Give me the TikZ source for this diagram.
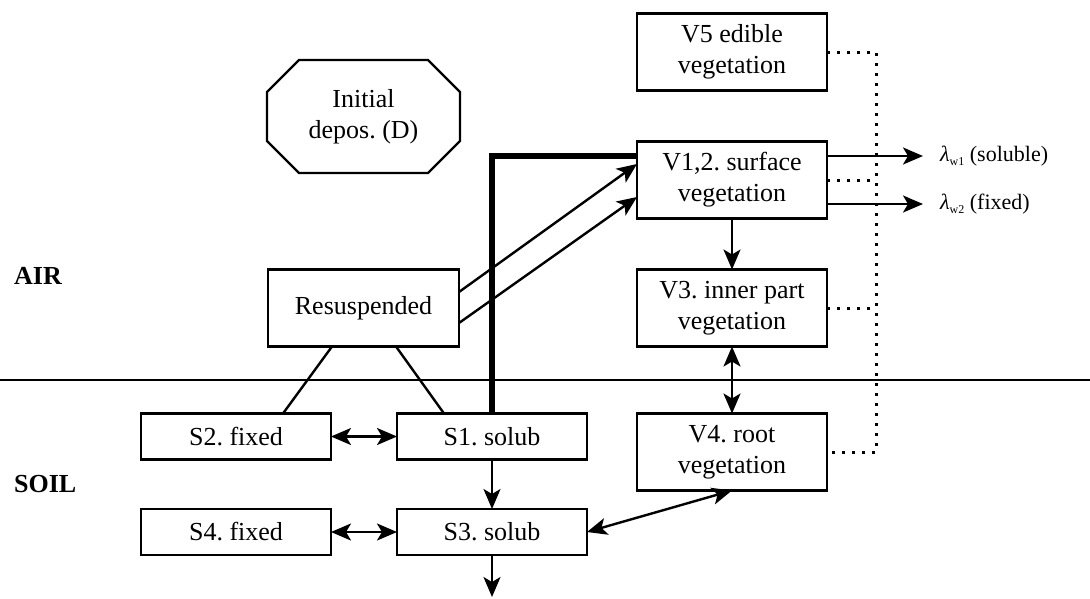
\documentclass[tikz,border=0pt]{standalone}
\usepackage{fontspec}
\setmainfont{Liberation Serif}
\usetikzlibrary{arrows.meta}
\frenchspacing
\begin{document}
\begin{tikzpicture}[x=1pt,y=-1pt,
  box/.style={draw, line width=2.4pt, minimum width=190pt, minimum height=77pt,
    align=center, inner sep=0pt, outer sep=0pt,
    font=\fontsize{26}{31}\selectfont},
  sbox/.style={box, minimum height=46pt},
  tip/.tip={Stealth[length=20pt,width=17pt,inset=5pt]},
  flow/.style={line width=2.4pt, -tip},
  both/.style={line width=2.4pt, tip-tip},
  link/.style={line width=2.4pt},
  feed/.style={line width=5.5pt},
  dots/.style={line width=3pt, dash pattern=on 3pt off 7pt},
  zone/.style={font=\bfseries\fontsize{26}{30}\selectfont, anchor=west, inner sep=0pt},
  rate/.style={font=\fontsize{22}{26}\selectfont, anchor=west, inner sep=0pt}]
\useasboundingbox (0,0) rectangle (1090,598);

% ground surface
\coordinate (gl) at (0,380);
\coordinate (gr) at (1090,380);
\draw[link] (gl) -- (gr);

% compartment labels
\node[zone] (air) at (14,276) {AIR};
\node[zone] (soil) at (14,484) {SOIL};

% initial deposition (octagon)
\node[minimum width=193pt, minimum height=113pt, inner sep=0pt, outer sep=0pt,
  align=center, font=\fontsize{26}{31}\selectfont] (dep) at (363.5,116.5)
  {Initial\\depos. (D)};
\draw[line width=2.4pt]
  ([xshift=32pt]dep.north west) -- ([xshift=-32pt]dep.north east)
  -- ([yshift=-32pt]dep.north east) -- ([yshift=32pt]dep.south east)
  -- ([xshift=-32pt]dep.south east) -- ([xshift=32pt]dep.south west)
  -- ([yshift=32pt]dep.south west) -- ([yshift=-32pt]dep.north west) -- cycle;

% vegetation compartments
\node[box] (v5) at (732,52) {V5 edible\\vegetation};
\node[box] (v12) at (732,180) {V1,2. surface\\vegetation};
\node[box] (v3) at (732,308) {V3. inner part\\vegetation};
\node[box] (v4) at (732,452) {V4. root\\vegetation};

% air and soil compartments
\node[box, minimum width=191pt] (res) at (363.5,308) {Resuspended};
\node[sbox] (s2) at (236,436.5) {S2. fixed};
\node[sbox] (s1) at (492,436.5) {S1. solub};
\node[sbox] (s4) at (236,532) {S4. fixed};
\node[sbox] (s3) at (492,532) {S3. solub};

% weathering outputs
\node[rate] (lw1) at (940,156) {\textit{λ}\raisebox{-4pt}{\fontsize{12}{12}\selectfont w1} (soluble)};
\node[rate] (lw2) at (940,204) {\textit{λ}\raisebox{-4pt}{\fontsize{12}{12}\selectfont w2} (fixed)};
\draw[flow] ([yshift=24pt]v12.east) -- ([xshift=-17pt]lw1.west);
\draw[flow] ([yshift=-24pt]v12.east) -- ([xshift=-17pt]lw2.west);

% root uptake to surface vegetation
\draw[feed] (s1.north) |- ([yshift=24pt]v12.west);

% resuspension to surface vegetation
\draw[flow] ([yshift=16pt]res.east) -- ([yshift=16pt]v12.west);
\draw[flow] ([yshift=-15pt]res.east) -- ([yshift=-17pt]v12.west);

% resuspension from soil
\draw[link] ([xshift=-31.5pt]res.south) -- ([xshift=47pt]s2.north);
\draw[link] ([xshift=32.5pt]res.south) -- ([xshift=-48pt]s1.north);

% vegetation transfers
\draw[flow] (v12.south) -- (v3.north);
\draw[both] (v3.south) -- (v4.north);
\draw[both] (v4.south) -- (s3.east);

% soil transfers
\draw[both] (s2.east) -- (s1.west);
\draw[both] (s4.east) -- (s3.west);
\draw[flow] (s1.south) -- (s3.north);
\coordinate (deep) at (492,597);
\draw[flow] (s3.south) -- (deep);

% dotted links between vegetation parts
\coordinate (trunktop) at (876,52);
\coordinate (trunkbot) at (876,452);
\draw[dots] (v5.east) -- (trunktop) -- (trunkbot) -- (v4.east);
\draw[dots] (v12.east) -- (v12.east -| trunktop);
\draw[dots] (v3.east) -- (v3.east -| trunktop);
\end{tikzpicture}
\end{document}
